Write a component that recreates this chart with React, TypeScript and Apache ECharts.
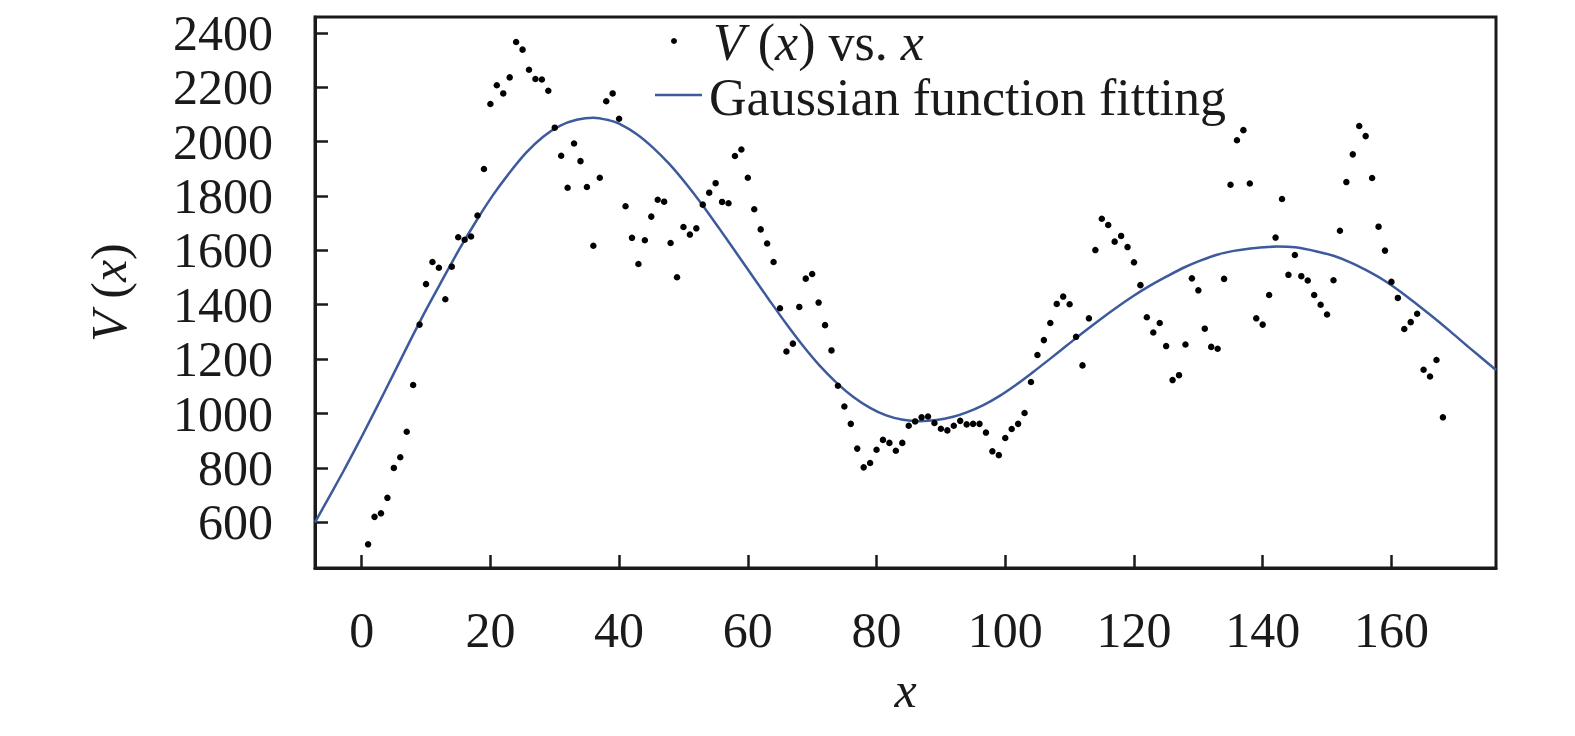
import React, { useEffect, useRef } from "react";
import * as echarts from "echarts";

// Measured V(x) at x = 1, 2, ..., 168
const V_VALUES = [
  519, 620, 633, 690, 800, 839, 933, 1105, 1327, 1476,
  1557, 1536, 1420, 1540, 1648, 1639, 1651, 1728, 1899, 2138,
  2207, 2177, 2236, 2366, 2338, 2264, 2230, 2228, 2187, 2051,
  1948, 1830, 1993, 1928, 1833, 1617, 1867, 2148, 2177, 2084,
  1762, 1646, 1550, 1637, 1724, 1786, 1779, 1627, 1501, 1686,
  1658, 1681, 1768, 1812, 1847, 1778, 1773, 1947, 1971, 1867,
  1751, 1677, 1625, 1557, 1387, 1228, 1257, 1392, 1496, 1513,
  1408, 1325, 1232, 1102, 1026, 962, 871, 802, 818, 867,
  903, 892, 863, 892, 955, 971, 986, 989, 965, 944,
  938, 955, 973, 960, 962, 962, 930, 861, 847, 910,
  943, 962, 1002, 1116, 1215, 1270, 1333, 1403, 1430, 1402,
  1282, 1177, 1350, 1601, 1716, 1693, 1632, 1653, 1612, 1556,
  1472, 1354, 1298, 1333, 1248, 1123, 1141, 1254, 1497, 1453,
  1312, 1245, 1238, 1495, 1841, 2005, 2042, 1846, 1350, 1327,
  1436, 1647, 1789, 1510, 1583, 1505, 1489, 1436, 1400, 1364,
  1490, 1672, 1851, 1953, 2057, 2020, 1866, 1687, 1599, 1484,
  1425, 1311, 1336, 1367, 1161, 1136, 1197, 986,
];
const X_START = 1;

// Gaussian fit curve
const FIT_X = [
  -7.25, -2.9, -0.3, 2.3, 4.9, 7.5, 10, 12.6, 15.2, 17.8, 20.4, 23, 25.6, 28.2,
  30.8, 33.4, 36, 38.5, 40, 42.7, 45.3, 47.9, 50.5, 53, 55.6, 58.2, 60.8, 63.4,
  66, 68.6, 71.2, 73.8, 76.4, 79, 81.5, 84.1, 86.7, 89.3, 91.9, 94, 96.6, 99.2,
  101.7, 104.3, 106.9, 109.5, 112.1, 114.7, 117.3, 119.9, 122.5, 125.1, 127.7,
  130.3, 132.9, 135.5, 138.1, 140.7, 142.2, 145, 148.4, 151, 153.6, 156, 158.7,
  161.3, 163.9, 166.5, 169.1, 172, 176.25,
];
const FIT_Y = [
  600, 785, 901, 1021, 1143, 1266, 1381, 1494, 1605, 1708, 1803, 1886, 1960, 2018,
  2058, 2080, 2088, 2078, 2066, 2028, 1977, 1915, 1842, 1765, 1679, 1591, 1503, 1415,
  1329, 1248, 1175, 1113, 1061, 1021, 993, 977, 972, 976, 988, 1004, 1031, 1066,
  1106, 1152, 1200, 1249, 1298, 1345, 1390, 1432, 1470, 1504, 1536,
  1562, 1584, 1598, 1607, 1612, 1614, 1611, 1596, 1580, 1556, 1528, 1492,
  1450, 1403, 1354, 1303, 1244, 1160,
];

const X_TICKS = [0, 20, 40, 60, 80, 100, 120, 140, 160];
const Y_TICKS = [600, 800, 1000, 1200, 1400, 1600, 1800, 2000, 2200, 2400];

const SERIES_POINTS = "V (x) vs. x";
const SERIES_FIT = "Gaussian function fitting";

const FONT = "'Liberation Serif', 'DejaVu Serif', serif";
const INK = "#1a1a1a";
const BLUE = "#3d5a9c";

export default function App() {
  const ref = useRef<HTMLDivElement>(null);

  useEffect(() => {
    document.body.style.margin = "0";
    if (!ref.current) return;
    const chart = echarts.init(ref.current, undefined, { renderer: "svg" });

    const italic = { fontStyle: "italic", fontFamily: FONT, fontSize: 50, color: INK };

    chart.setOption({
      animation: false,
      backgroundColor: "#ffffff",
      grid: {
        left: 315,
        top: 17,
        width: 1181,
        height: 551,
        show: true,
        borderColor: INK,
        borderWidth: 3,
        backgroundColor: "transparent",
      },
      xAxis: {
        type: "value",
        min: -7.25,
        max: 176.25,
        name: "{i|x}",
        nameLocation: "middle",
        nameGap: 97,
        nameTextStyle: { fontFamily: FONT, fontSize: 50, color: INK, rich: { i: italic } },
        axisLine: { show: true, onZero: false, lineStyle: { color: INK, width: 3 } },
        axisTick: {
          show: true,
          inside: true,
          length: 13,
          lineStyle: { color: INK, width: 2.5 },
          customValues: X_TICKS,
        },
        axisLabel: {
          customValues: X_TICKS,
          formatter: (v: number) => String(v),
          fontFamily: FONT,
          fontSize: 50,
          color: INK,
          margin: 37,
        },
        splitLine: { show: false },
      },
      yAxis: {
        type: "value",
        min: 432,
        max: 2458,
        name: "{i|V} ({i|x})",
        nameLocation: "middle",
        nameRotate: 90,
        nameGap: 181,
        nameTextStyle: { fontFamily: FONT, fontSize: 50, color: INK, rich: { i: italic } },
        axisLine: { show: true, onZero: false, lineStyle: { color: INK, width: 3 } },
        axisTick: {
          show: true,
          inside: true,
          length: 13,
          lineStyle: { color: INK, width: 2.5 },
          customValues: Y_TICKS,
        },
        axisLabel: {
          customValues: Y_TICKS,
          formatter: (v: number) => String(v),
          fontFamily: FONT,
          fontSize: 50,
          color: INK,
          margin: 42,
        },
        splitLine: { show: false },
      },
      graphic: [
        {
          type: "circle",
          shape: { cx: 674, cy: 41, r: 3 },
          style: { fill: "#000" },
          z: 100,
        },
        {
          type: "text",
          x: 713,
          y: 42,
          z: 100,
          style: {
            text: "{i|V} ({i|x}) vs. {i|x}",
            fontFamily: FONT,
            fontSize: 52,
            fill: INK,
            verticalAlign: "middle",
            rich: { i: { fontStyle: "italic", fontFamily: FONT, fontSize: 52, fill: INK } },
          },
        },
        {
          type: "line",
          shape: { x1: 655, y1: 95, x2: 702, y2: 95 },
          style: { stroke: BLUE, lineWidth: 2.5 },
          z: 100,
        },
        {
          type: "text",
          x: 709,
          y: 97,
          z: 100,
          style: {
            text: SERIES_FIT,
            fontFamily: FONT,
            fontSize: 52,
            fill: INK,
            verticalAlign: "middle",
          },
        },
      ],
      series: [
        {
          name: SERIES_FIT,
          type: "line",
          data: FIT_X.map((x, i) => [x, FIT_Y[i]]),
          smooth: 0.3,
          showSymbol: false,
          symbol: "none",
          lineStyle: { color: BLUE, width: 2.5 },
          itemStyle: { color: BLUE },
          z: 2,
        },
        {
          name: SERIES_POINTS,
          type: "scatter",
          data: V_VALUES.map((v, i) => [X_START + i, v]),
          symbol: "circle",
          symbolSize: 6.5,
          itemStyle: { color: "#000", opacity: 1 },
          z: 3,
        },
      ],
    });

    return () => chart.dispose();
  }, []);

  return <div ref={ref} style={{ width: 1575, height: 736 }} />;
}
